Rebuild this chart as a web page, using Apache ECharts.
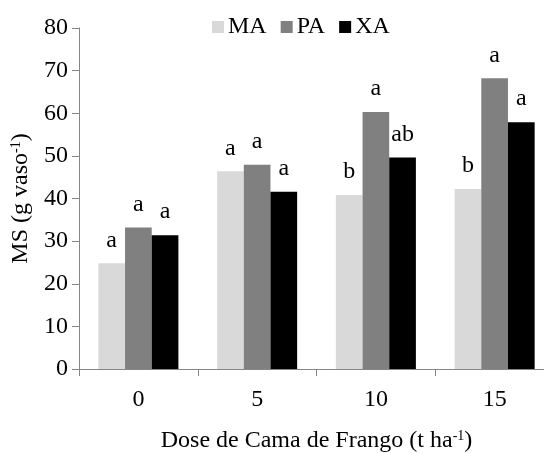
<!DOCTYPE html>
<html>
<head>
<meta charset="utf-8">
<script src="https://cdn.jsdelivr.net/npm/echarts@6/dist/echarts.min.js"></script>
<style>
  html, body { margin: 0; padding: 0; background: #fff; }
  #chart { width: 544px; height: 453px; }
</style>
</head>
<body>
<div id="chart"></div>
<script>
// Dry matter (MS) per pot by poultry litter dose
const doses = ['0', '5', '10', '15'];
const seriesNames = ['MA', 'PA', 'XA'];
const msMA = [24.8, 46.4, 40.8, 42.2];
const msPA = [33.2, 47.9, 60.3, 68.2];
const msXA = [31.4, 41.6, 49.6, 57.9];
// Mean-comparison letters above each bar
const lettersMA = ['a', 'a', 'b', 'b'];
const lettersPA = ['a', 'a', 'a', 'a'];
const lettersXA = ['a', 'a', 'ab', 'a'];
const yTicks = [0, 10, 20, 30, 40, 50, 60, 70, 80];

const FONT = "'Liberation Serif', 'Times New Roman', serif";
const FS = 24;
const AXIS_GRAY = '#868686';

const values = [msMA, msPA, msXA];
const letters = [lettersMA, lettersPA, lettersXA];
const colors = ['#d9d9d9', '#808080', '#000000'];

const chart = echarts.init(document.getElementById('chart'), null, { renderer: 'canvas' });

const supRich = {
  sup: { fontFamily: FONT, fontSize: 14, color: '#000', verticalAlign: 'top', padding: [0, 0, 9, 0] },
  p: { fontFamily: FONT, fontSize: FS, color: '#000' }
};

chart.setOption({
  animation: false,
  backgroundColor: '#ffffff',
  textStyle: { fontFamily: FONT },
  legend: {
    data: seriesNames,
    left: 207,
    top: 10,
    icon: 'rect',
    itemWidth: 12,
    itemHeight: 12,
    itemGap: 14,
    textStyle: { fontFamily: FONT, fontSize: FS, color: '#000', padding: [0, 0, 0, -1] }
  },
  grid: {
    left: 79,
    top: 28,
    width: 475,
    height: 341,
    containLabel: false,
    outerBoundsMode: 'none'
  },
  xAxis: {
    type: 'category',
    data: doses,
    name: 'Dose de Cama de Frango (t ha{sup|-1}{p|)}',
    nameLocation: 'middle',
    nameGap: 60,
    nameTextStyle: { fontFamily: FONT, fontSize: FS, color: '#000', rich: supRich },
    axisLine: { show: true, lineStyle: { color: AXIS_GRAY, width: 1 } },
    axisTick: { show: true, alignWithLabel: false, length: 7, lineStyle: { color: AXIS_GRAY } },
    axisLabel: { margin: 19, fontFamily: FONT, fontSize: FS, color: '#000' },
    splitLine: { show: false }
  },
  yAxis: {
    type: 'value',
    min: yTicks[0],
    max: yTicks[yTicks.length - 1],
    interval: yTicks[1] - yTicks[0],
    name: 'MS (g vaso{sup|-1}{p|)}',
    nameLocation: 'middle',
    nameGap: 44,
    nameRotate: 90,
    nameTextStyle: { fontFamily: FONT, fontSize: FS, color: '#000', rich: supRich },
    axisLine: { show: true, lineStyle: { color: AXIS_GRAY, width: 1 } },
    axisTick: { show: true, length: 7, lineStyle: { color: AXIS_GRAY } },
    axisLabel: { margin: 11, fontFamily: FONT, fontSize: FS, color: '#000' },
    splitLine: { show: false }
  },
  series: seriesNames.map((name, i) => ({
    name: name,
    type: 'bar',
    data: values[i],
    barGap: '0%',
    barCategoryGap: '32.6%',
    itemStyle: { color: colors[i] },
    label: {
      show: true,
      position: 'top',
      distance: 11,
      fontFamily: FONT,
      fontSize: FS,
      color: '#000',
      formatter: (p) => letters[i][p.dataIndex]
    }
  }))
});
</script>
</body>
</html>
